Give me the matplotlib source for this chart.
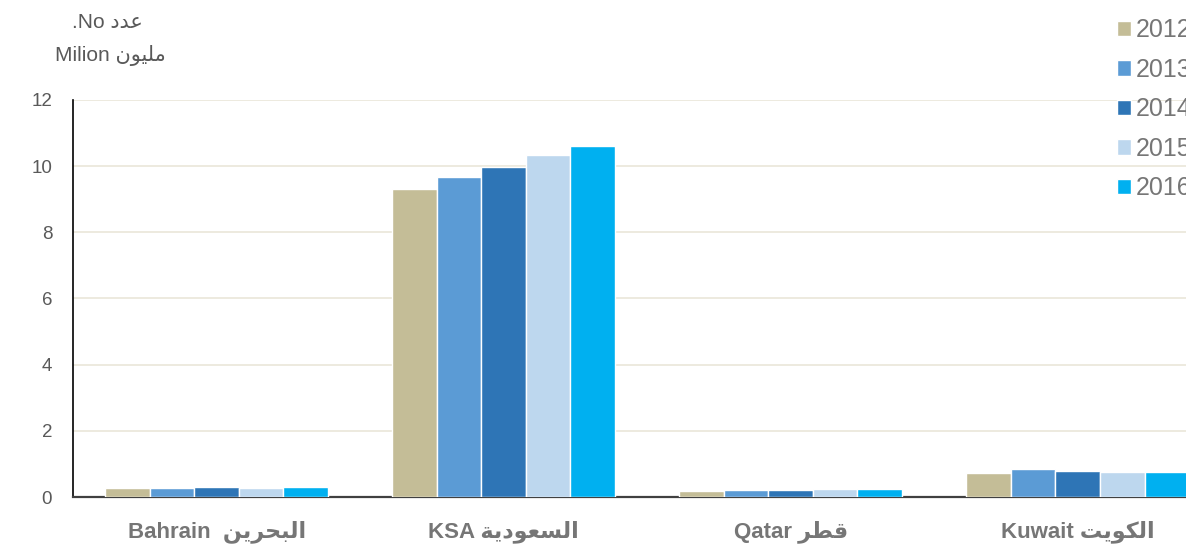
"""Grafico a barre raggruppate: popolazione (milioni) per paese 2012-2016"""

import numpy as np
from matplotlib import pyplot as plt

# Dati
# Etichette arabe scritte in forme di presentazione, ordine visivo
paesi = ["Bahrain  \uFEE6\uFEF3\uFEAE\uFEA4\uFE92\uFEDF\uFE8D",
         "KSA \uFE94\uFEF3\uFEA9\uFEEE\uFECC\uFEB4\uFEDF\uFE8D",
         "Qatar \uFEAE\uFEC4\uFED7",
         "Kuwait \uFE96\uFEF3\uFEEE\uFEDC\uFEDF\uFE8D"]
anni = ["2012", "2013", "2014", "2015", "2016"]
valori_2012 = [0.26, 9.31, 0.19, 0.72]
valori_2013 = [0.26, 9.67, 0.21, 0.86]
valori_2014 = [0.29, 9.98, 0.22, 0.80]
valori_2015 = [0.28, 10.34, 0.24, 0.77]
valori_2016 = [0.30, 10.61, 0.24, 0.77]
valori = [valori_2012, valori_2013, valori_2014, valori_2015, valori_2016]
colori = ["#C4BD97", "#5B9BD5", "#2E75B6", "#BDD7EE", "#00B0F0"]
yticks = [0, 2, 4, 6, 8, 10, 12]

FONT = ["Liberation Sans", "DejaVu Sans"]
GRIGIO = "#595959"

fig = plt.figure(figsize=(11.86, 5.47), dpi=100)
ax = fig.add_axes([0.0616, 0.0914, 0.968, 0.7258])

x = np.arange(len(paesi))
larghezza = 0.1554
for i, (anno, serie) in enumerate(zip(anni, valori)):
    ax.bar(x + (i - 2) * larghezza, serie, width=larghezza, color=colori[i],
           edgecolor="white", linewidth=1.0, label=anno, zorder=3)

ax.set_xlim(-0.5, 3.5)
ax.set_ylim(0, 12)
ax.set_yticks(yticks)
ax.set_yticklabels([str(t) for t in yticks], fontsize=13.5, color=GRIGIO, family=FONT)
ax.tick_params(axis="y", length=0, pad=15)
ax.set_xticks(x)
ax.set_xticklabels(paesi, fontsize=16, fontweight="bold", color="#767676", family=FONT)
ax.tick_params(axis="x", length=0, pad=16.5)

for t in yticks[1:]:
    ax.axhline(t, color="#EAE6D9", linewidth=1.2, zorder=1)

for lato in ["top", "right"]:
    ax.spines[lato].set_visible(False)
ax.spines["left"].set_color("black")
ax.spines["left"].set_linewidth(1.2)
ax.spines["bottom"].set_color("#404040")
ax.spines["bottom"].set_linewidth(1.6)

# Titolo asse y
fig.text(0.091, 0.958, ".No \uFEA9\uFEAA\uFECB", fontsize=15, color=GRIGIO,
         family=FONT, ha="center", va="center")
fig.text(0.093, 0.899, "Milion \uFEE5\uFEEE\uFEF4\uFEE0\uFEE3", fontsize=15,
         color=GRIGIO, family=FONT, ha="center", va="center")

# Legenda tagliata al bordo destro come nell'originale
fig.legend(loc="upper left", bbox_to_anchor=(0.9418, 0.9665), frameon=False,
           borderpad=0, borderaxespad=0, handlelength=0.55, handleheight=0.55,
           handletextpad=0.22, labelspacing=0.62,
           prop={"family": FONT, "size": 18}, labelcolor="#767676")

fig.savefig("out.png", dpi=100)
